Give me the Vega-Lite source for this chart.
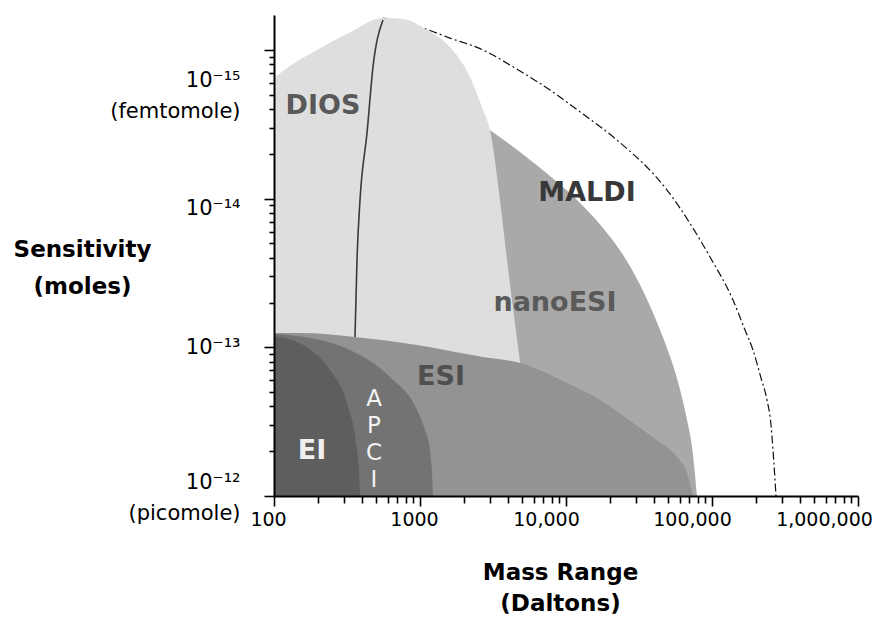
{
  "$schema": "https://vega.github.io/schema/vega-lite/v6.json",
  "width": 584,
  "height": 481,
  "autosize": "none",
  "padding": {"left": 274, "top": 15, "right": 19, "bottom": 122},
  "background": "white",
  "config": {"view": {"stroke": null}, "axis": {"grid": false}},
  "datasets": {
    "maldi": [
      {"mass": 557.9, "moles": 6.10e-16},
      {"mass": 1000, "moles": 7.02e-16},
      {"mass": 1605, "moles": 8.32e-16},
      {"mass": 2701, "moles": 1.0e-15},
      {"mass": 4474, "moles": 1.323e-15},
      {"mass": 7771, "moles": 1.861e-15},
      {"mass": 13075, "moles": 2.70e-15},
      {"mass": 22360, "moles": 4.04e-15},
      {"mass": 49180, "moles": 8.75e-15},
      {"mass": 96900, "moles": 2.47e-14},
      {"mass": 139250, "moles": 4.81e-14},
      {"mass": 168300, "moles": 7.65e-14},
      {"mass": 190900, "moles": 1.043e-13},
      {"mass": 216600, "moles": 1.609e-13},
      {"mass": 238100, "moles": 2.262e-13},
      {"mass": 253600, "moles": 3.33e-13},
      {"mass": 261700, "moles": 4.91e-13},
      {"mass": 274400, "moles": 1e-12}
    ],
    "regions": [
      {"region": "DIOS", "mass": 100, "moles": 1.545e-15},
      {"region": "DIOS", "mass": 128.7, "moles": 1.282e-15},
      {"region": "DIOS", "mass": 197, "moles": 1.002e-15},
      {"region": "DIOS", "mass": 331.6, "moles": 7.59e-16},
      {"region": "DIOS", "mass": 557.9, "moles": 6.10e-16},
      {"region": "DIOS", "mass": 764.9, "moles": 6.19e-16},
      {"region": "DIOS", "mass": 1117, "moles": 7.35e-16},
      {"region": "DIOS", "mass": 1605, "moles": 9.56e-16},
      {"region": "DIOS", "mass": 2200, "moles": 1.52e-15},
      {"region": "DIOS", "mass": 2701, "moles": 2.535e-15},
      {"region": "DIOS", "mass": 3016, "moles": 3.46e-15},
      {"region": "DIOS", "mass": 3531, "moles": 1.021e-14},
      {"region": "DIOS", "mass": 3944, "moles": 2.59e-14},
      {"region": "DIOS", "mass": 4267, "moles": 4.81e-14},
      {"region": "DIOS", "mass": 4841, "moles": 1.256e-13},
      {"region": "nanoESI", "mass": 3016, "moles": 3.46e-15},
      {"region": "nanoESI", "mass": 4841, "moles": 4.86e-15},
      {"region": "nanoESI", "mass": 7771, "moles": 7.05e-15},
      {"region": "nanoESI", "mass": 11890, "moles": 1.022e-14},
      {"region": "nanoESI", "mass": 17920, "moles": 1.576e-14},
      {"region": "nanoESI", "mass": 25360, "moles": 2.509e-14},
      {"region": "nanoESI", "mass": 34760, "moles": 4.45e-14},
      {"region": "nanoESI", "mass": 45460, "moles": 8.27e-14},
      {"region": "nanoESI", "mass": 56690, "moles": 1.536e-13},
      {"region": "nanoESI", "mass": 66340, "moles": 2.853e-13},
      {"region": "nanoESI", "mass": 74130, "moles": 5.30e-13},
      {"region": "nanoESI", "mass": 78950, "moles": 1e-12},
      {"region": "ESI", "mass": 100, "moles": 8.01e-14},
      {"region": "ESI", "mass": 150.7, "moles": 8.01e-14},
      {"region": "ESI", "mass": 358.7, "moles": 8.52e-14},
      {"region": "ESI", "mass": 953.9, "moles": 9.65e-14},
      {"region": "ESI", "mass": 2701, "moles": 1.162e-13},
      {"region": "ESI", "mass": 4841, "moles": 1.275e-13},
      {"region": "ESI", "mass": 10160, "moles": 1.739e-13},
      {"region": "ESI", "mass": 17100, "moles": 2.262e-13},
      {"region": "ESI", "mass": 28770, "moles": 3.23e-13},
      {"region": "ESI", "mass": 40690, "moles": 4.14e-13},
      {"region": "ESI", "mass": 57590, "moles": 5.47e-13},
      {"region": "ESI", "mass": 67400, "moles": 7.0e-13},
      {"region": "ESI", "mass": 74130, "moles": 1e-12},
      {"region": "APCI", "mass": 100, "moles": 8.14e-14},
      {"region": "APCI", "mass": 176.4, "moles": 8.66e-14},
      {"region": "APCI", "mass": 331.6, "moles": 1.043e-13},
      {"region": "APCI", "mass": 623, "moles": 1.584e-13},
      {"region": "APCI", "mass": 953.9, "moles": 2.64e-13},
      {"region": "APCI", "mass": 1082, "moles": 3.60e-13},
      {"region": "APCI", "mass": 1171, "moles": 4.91e-13},
      {"region": "APCI", "mass": 1208, "moles": 6.90e-13},
      {"region": "APCI", "mass": 1227, "moles": 1e-12},
      {"region": "EI", "mass": 100, "moles": 8.39e-14},
      {"region": "EI", "mass": 168.3, "moles": 1.0e-13},
      {"region": "EI", "mass": 241.9, "moles": 1.421e-13},
      {"region": "EI", "mass": 316.2, "moles": 2.37e-13},
      {"region": "EI", "mass": 370.2, "moles": 4.91e-13},
      {"region": "EI", "mass": 382.1, "moles": 6.90e-13},
      {"region": "EI", "mass": 388.2, "moles": 1e-12}
    ],
    "divider": [
      {"mass": 358.7, "moles": 8.52e-14},
      {"mass": 370.2, "moles": 2.59e-14},
      {"mass": 388.2, "moles": 1.021e-14},
      {"mass": 433.5, "moles": 3.62e-15},
      {"mass": 476.4, "moles": 1.303e-15},
      {"mass": 557.9, "moles": 6.29e-16}
    ],
    "labels": [
      {"label": "DIOS", "mass": 216.6, "moles": 2.384e-15},
      {"label": "MALDI", "mass": 13925, "moles": 9.17e-15},
      {"label": "nanoESI", "mass": 8408, "moles": 5.04e-14},
      {"label": "ESI", "mass": 1392, "moles": 1.584e-13},
      {"label": "EI", "mass": 182.1, "moles": 4.98e-13}
    ],
    "apci": [
      {"label": "A P C I", "mass": 484, "moles": 2.228e-13}
    ]
  },
  "encoding": {
    "x": {
      "field": "mass",
      "type": "quantitative",
      "scale": {"type": "log", "domain": [100, 1000000], "nice": false},
      "axis": {
        "values": [100, 200, 300, 400, 500, 600, 700, 800, 900, 1000, 2000, 3000, 4000, 5000, 6000, 7000, 8000, 9000, 10000, 20000, 30000, 40000, 50000, 60000, 70000, 80000, 90000, 100000, 200000, 300000, 400000, 500000, 600000, 700000, 800000, 900000, 1000000],
        "labelExpr": "datum.value == 100 ? '100' : datum.value == 1000 ? '1000' : datum.value == 10000 ? '10,000' : datum.value == 100000 ? '100,000' : datum.value == 1000000 ? '1,000,000' : ''",
        "title": ["Mass Range", "(Daltons)"],
        "titleFont": "DejaVu Sans",
        "titleFontSize": 23,
        "titleFontWeight": "bold",
        "titleColor": "#000000",
        "titleBaseline": "alphabetic",
        "titleAlign": "center",
        "titleX": 286,
        "titleY": 83,
        "titleLineHeight": 31,
        "labelFont": "DejaVu Sans",
        "labelFontSize": 19,
        "labelColor": "#000000",
        "labelOverlap": false,
        "labelFlush": false,
        "labelBound": false,
        "labelPadding": 4,
        "labelOffset": {"condition": [{"test": "datum.value > 500000", "value": -34}, {"test": "datum.value > 5000", "value": -20}], "value": -6},
        "tickSize": {"condition": {"test": "abs(log(datum.value)/LN10 - round(log(datum.value)/LN10)) < 0.001", "value": 10}, "value": 7},
        "tickColor": "#000000",
        "tickWidth": 1.6,
        "domainColor": "#000000",
        "domainWidth": 2,
        "grid": false,
        "zindex": 1
      }
    },
    "y": {
      "field": "moles",
      "type": "quantitative",
      "scale": {"type": "log", "domain": [5.82e-16, 1e-12], "reverse": true, "nice": false},
      "axis": {
        "values": [1e-12, 5e-13, 3.3333e-13, 2.5e-13, 2e-13, 1.6667e-13, 1.4286e-13, 1.25e-13, 1.1111e-13, 1e-13, 5e-14, 3.3333e-14, 2.5e-14, 2e-14, 1.6667e-14, 1.4286e-14, 1.25e-14, 1.1111e-14, 1e-14, 5e-15, 3.3333e-15, 2.5e-15, 2e-15, 1.6667e-15, 1.4286e-15, 1.25e-15, 1.1111e-15, 1e-15],
        "labelExpr": "datum.value == 1e-15 ? ['10⁻¹⁵', '(femtomole)'] : datum.value == 1e-14 ? '10⁻¹⁴' : datum.value == 1e-13 ? '10⁻¹³' : datum.value == 1e-12 ? ['10⁻¹²', '(picomole)'] : ''",
        "title": ["Sensitivity", "(moles)"],
        "titleFont": "DejaVu Sans",
        "titleFontSize": 23,
        "titleFontWeight": "bold",
        "titleColor": "#000000",
        "titleAngle": 0,
        "titleAlign": "center",
        "titleBaseline": "alphabetic",
        "titleX": -192,
        "titleY": 241,
        "titleLineHeight": 37,
        "labelFont": "DejaVu Sans",
        "labelFontSize": 21,
        "labelColor": "#000000",
        "labelLineHeight": 31,
        "labelOverlap": false,
        "labelFlush": false,
        "labelBound": false,
        "labelPadding": 24,
        "labelOffset": {"condition": [{"test": "datum.value < 2e-15", "value": 31}, {"test": "datum.value > 5e-15 && datum.value < 2e-14", "value": 10}, {"test": "datum.value > 6e-13", "value": -14}], "value": 0},
        "tickSize": {"condition": {"test": "abs(log(datum.value)/LN10 - round(log(datum.value)/LN10)) < 0.001", "value": 10}, "value": 5},
        "tickColor": "#000000",
        "tickWidth": 1.6,
        "domainColor": "#000000",
        "domainWidth": 2,
        "grid": false,
        "zindex": 1
      }
    }
  },
  "layer": [
    {
      "data": {"name": "maldi"},
      "mark": {"type": "line", "color": "#111111", "strokeWidth": 1.2, "strokeDash": [8, 3, 2, 3], "interpolate": "monotone"}
    },
    {
      "data": {"name": "regions"},
      "transform": [{"filter": "datum.region == 'nanoESI'"}],
      "mark": {"type": "area", "color": "#a9a9a9", "interpolate": "monotone"},
      "encoding": {"y2": {"datum": 1e-12}}
    },
    {
      "data": {"name": "regions"},
      "transform": [{"filter": "datum.region == 'DIOS'"}],
      "mark": {"type": "area", "color": "#dedede", "interpolate": "monotone"},
      "encoding": {"y2": {"datum": 1e-12}}
    },
    {
      "data": {"name": "divider"},
      "mark": {"type": "line", "color": "#3a3a3a", "strokeWidth": 1.6, "interpolate": "monotone"}
    },
    {
      "data": {"name": "regions"},
      "transform": [{"filter": "datum.region == 'ESI'"}],
      "mark": {"type": "area", "color": "#939393", "interpolate": "monotone"},
      "encoding": {"y2": {"datum": 1e-12}}
    },
    {
      "data": {"name": "regions"},
      "transform": [{"filter": "datum.region == 'APCI'"}],
      "mark": {"type": "area", "color": "#737373", "interpolate": "monotone"},
      "encoding": {"y2": {"datum": 1e-12}}
    },
    {
      "data": {"name": "regions"},
      "transform": [{"filter": "datum.region == 'EI'"}],
      "mark": {"type": "area", "color": "#5e5e5e", "interpolate": "monotone"},
      "encoding": {"y2": {"datum": 1e-12}}
    },
    {
      "data": {"name": "labels"},
      "mark": {"type": "text", "font": "DejaVu Sans", "fontWeight": "bold", "fontSize": 27, "align": "center", "baseline": "middle"},
      "encoding": {
        "text": {"field": "label"},
        "color": {"field": "label", "type": "nominal", "scale": {"domain": ["DIOS", "MALDI", "nanoESI", "ESI", "EI"], "range": ["#595959", "#383838", "#5a5a5a", "#4f4f4f", "#efefef"]}, "legend": null}
      }
    },
    {
      "data": {"name": "apci"},
      "mark": {"type": "text", "font": "DejaVu Sans", "fontSize": 23, "align": "center", "baseline": "middle", "lineBreak": " ", "lineHeight": 27, "color": "#f2f2f2"},
      "encoding": {"text": {"field": "label"}}
    }
  ]
}
